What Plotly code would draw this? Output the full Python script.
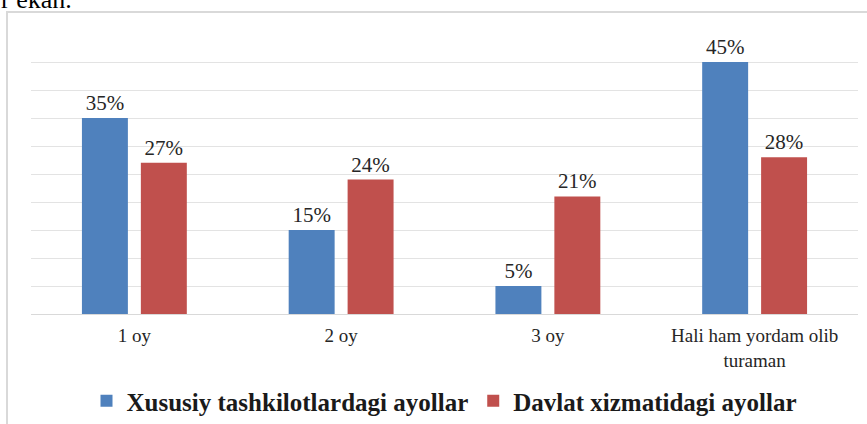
import plotly.graph_objects as go

categories = ["1 oy", "2 oy", "3 oy", "Hali ham yordam olib<br>turaman"]
xususiy = [35, 15, 5, 45]
davlat = [27, 24, 21, 28]
series_names = ["Xususiy tashkilotlardagi ayollar", "Davlat xizmatidagi ayollar"]
colors = ["#4F81BD", "#C0504D"]

serif = "Liberation Serif"

fig = go.Figure()
for name, vals, col in zip(series_names, [xususiy, davlat], colors):
    fig.add_trace(go.Bar(
        x=categories, y=vals, name=name,
        marker=dict(color=col, line=dict(width=0)),
        text=[f"{v}%" for v in vals], textposition="outside",
        textfont=dict(family=serif, size=21, color="#262626"),
        cliponaxis=False,
    ))

fig.update_layout(
    width=867, height=424,
    margin=dict(l=31, r=9, t=34, b=110, autoexpand=False),
    paper_bgcolor="white", plot_bgcolor="white",
    font=dict(family=serif),
    barmode="group", bargap=0.43, bargroupgap=0.22,
    showlegend=True,
    legend=dict(orientation="h", x=0.5, xanchor="center",
                yref="container", y=(424 - 401) / 424, yanchor="middle",
                font=dict(family=serif, size=25, color="#1a1a1a", weight="bold"),
                itemsizing="constant", traceorder="normal"),
    xaxis=dict(showgrid=False, showline=True, linecolor="#d9d9d9", linewidth=1,
               ticks="", ticklabelstandoff=4,
               tickfont=dict(family=serif, size=19, color="#262626")),
    yaxis=dict(range=[0, 50], dtick=5, showgrid=True, gridcolor="#e3e3e3", gridwidth=1,
               showticklabels=False, zeroline=False, showline=False),
)

# Outer chart frame
fig.add_shape(type="rect", xref="paper", yref="paper",
              x0=(7 - 31) / 827, x1=(875 - 31) / 827,
              y0=(314 - 430) / 280, y1=(314 - 12) / 280,
              line=dict(color="#d9d9d9", width=2), fillcolor="rgba(0,0,0,0)", layer="below")

# Tail of the preceding sentence above the chart
fig.add_annotation(text="r ekan.", xref="paper", yref="paper",
                   x=(-1 - 31) / 827, xanchor="left",
                   y=(314 + 1) / 280, yanchor="middle",
                   showarrow=False, font=dict(family=serif, size=26, color="#000000"))

fig.write_html("out.html")
